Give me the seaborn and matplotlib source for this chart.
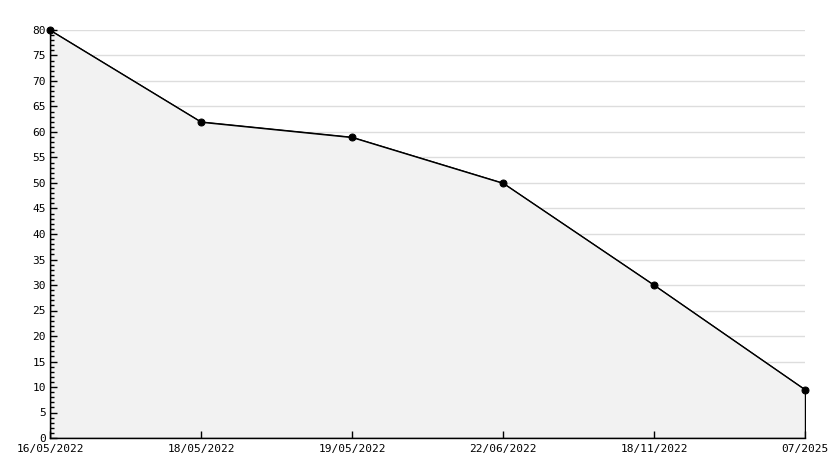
# Import packages
import numpy as np
import pandas as pd
import seaborn as sns
import matplotlib.pyplot as plt
from matplotlib.ticker import MultipleLocator

# Data
dates = ["16/05/2022", "18/05/2022", "19/05/2022", "22/06/2022", "18/11/2022", "07/2025"]
values = [80, 62, 59, 50, 30, 9.5]

df = pd.DataFrame({"pos": np.arange(len(dates)), "value": values})

sns.set_style("white")
plt.rcParams["font.family"] = ["DejaVu Sans Mono", "DejaVu Sans"]

fig = plt.figure(figsize=(8.34, 4.68), dpi=100)
ax = fig.add_axes([50 / 834, 30 / 468, 755 / 834, 408 / 468])

# Area under the line
ax.fill_between(df["pos"], df["value"], 0, facecolor="#f2f2f2",
                edgecolor="black", linewidth=1, zorder=1)

# Line with markers
sns.lineplot(data=df, x="pos", y="value", color="black", linewidth=0.7,
             marker="o", markersize=5, markeredgecolor="black", ax=ax,
             zorder=3, clip_on=False)

# Axes limits and ticks
ax.set_xlim(0, len(dates) - 1)
ax.set_ylim(0, 80)
ax.set_xticks(df["pos"])
ax.set_xticklabels(dates)
ax.yaxis.set_major_locator(MultipleLocator(5))
ax.yaxis.set_minor_locator(MultipleLocator(1))
ax.tick_params(axis="both", which="major", direction="in", length=5, width=1,
               color="black", labelcolor="black", labelsize=8, pad=3,
               bottom=True, left=True)
ax.tick_params(axis="y", which="minor", direction="in", length=3, width=1,
               color="black", left=True)
ax.tick_params(axis="x", which="major", pad=4)

# Labels
ax.set_xlabel("")
ax.set_ylabel("")

# Ticks drawn on top of the filled area
ax.set_axisbelow(False)

# Horizontal grid lines, kept behind the filled area
ax.grid(False)
grid_y = [t for t in ax.get_yticks() if 0 < t <= 80]
ax.hlines(grid_y, 0, len(dates) - 1, colors="#dddddd", linewidth=1, zorder=0.5)

# Spines
for side in ["top", "right"]:
    ax.spines[side].set_visible(False)
for side in ["left", "bottom"]:
    ax.spines[side].set_color("black")
    ax.spines[side].set_linewidth(1)

fig.savefig("out.png", dpi=100)
